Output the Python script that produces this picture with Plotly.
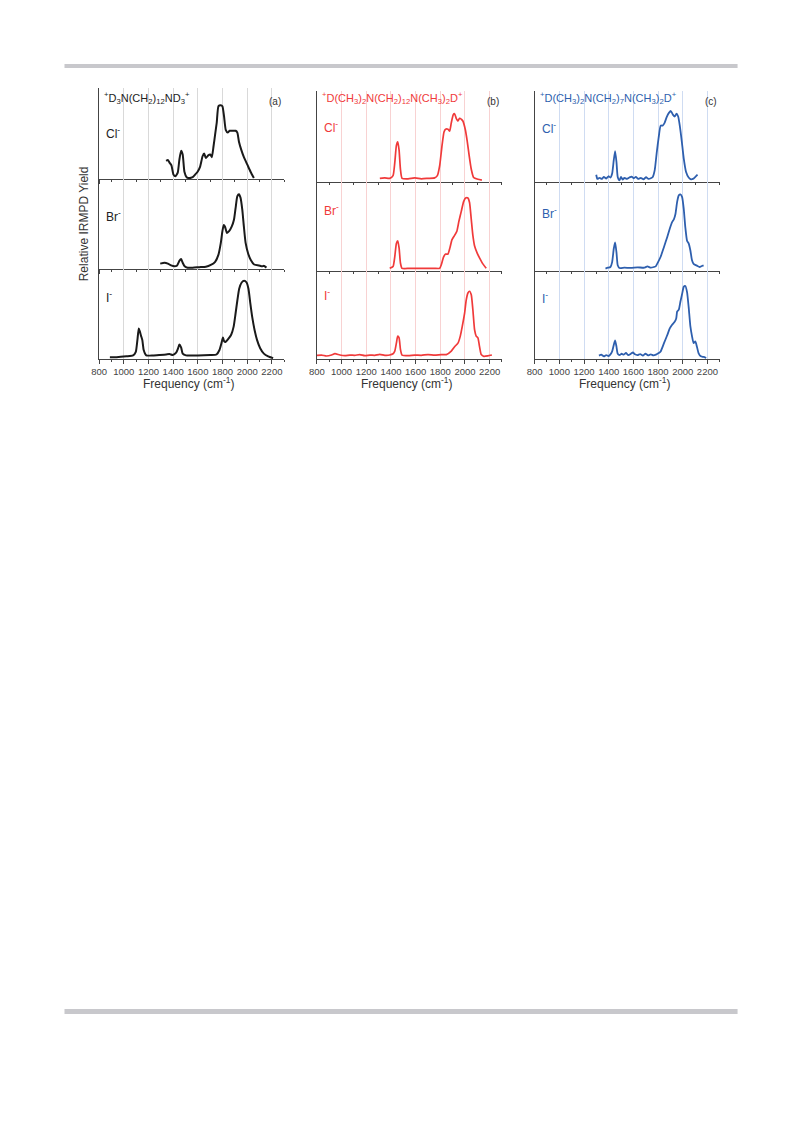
import plotly.graph_objects as go

# page body has an 8px margin; the figure is sized to the remaining area
OFF = 8
W, H = 793 - OFF, 1121 - OFF

# ---------------- data ----------------
tick_vals = [800, 1000, 1200, 1400, 1600, 1800, 2000, 2200]
tick_text = ["800", "1000", "1200", "1400", "1600", "1800", "2000", "2200"]
ions = ["Cl<sup>-</sup>", "Br<sup>-</sup>", "I<sup>-</sup>"]
panel_titles = [
    "<sup>+</sup>D<sub>3</sub>N(CH<sub>2</sub>)<sub>12</sub>ND<sub>3</sub><sup>+</sup>",
    "<sup>+</sup>D(CH<sub>3</sub>)<sub>2</sub>N(CH<sub>2</sub>)<sub>12</sub>N(CH<sub>3</sub>)<sub>2</sub>D<sup>+</sup>",
    "<sup>+</sup>D(CH<sub>3</sub>)<sub>2</sub>N(CH<sub>2</sub>)<sub>7</sub>N(CH<sub>3</sub>)<sub>2</sub>D<sup>+</sup>",
]
panel_tags = ["(a)", "(b)", "(c)"]

# panel (a)
a_cl_x = [1343, 1357, 1370, 1386, 1402, 1418, 1437, 1450, 1464, 1477, 1491, 1509, 1531, 1558, 1579,
          1598, 1617, 1638, 1651, 1665, 1684, 1700, 1713, 1727, 1740, 1753, 1767, 1786, 1799, 1812,
          1826, 1842, 1858, 1879, 1906, 1920, 1933, 1952, 1973, 2000, 2027, 2054]
a_cl_y = [0.20, 0.21, 0.18, 0.15, 0.05, 0.03, 0.07, 0.21, 0.31, 0.27, 0.08, 0.02, 0.01, 0.02, 0.05,
          0.08, 0.13, 0.25, 0.28, 0.23, 0.26, 0.27, 0.24, 0.36, 0.49, 0.62, 0.80, 0.81, 0.80, 0.69,
          0.54, 0.51, 0.53, 0.53, 0.53, 0.51, 0.41, 0.32, 0.24, 0.16, 0.08, 0.01]
a_br_x = [1295, 1330, 1357, 1383, 1410, 1432, 1450, 1464, 1477, 1493, 1517, 1558, 1611, 1665, 1705,
          1740, 1767, 1786, 1799, 1810, 1820, 1836, 1853, 1874, 1893, 1906, 1920, 1933, 1946, 1960,
          1973, 1987, 2008, 2029, 2056, 2094, 2121, 2134, 2156]
a_br_y = [0.06, 0.07, 0.06, 0.04, 0.03, 0.04, 0.09, 0.11, 0.07, 0.03, 0.015, 0.015, 0.02, 0.025, 0.045,
          0.08, 0.16, 0.29, 0.42, 0.49, 0.47, 0.40, 0.42, 0.47, 0.55, 0.68, 0.81, 0.83, 0.79, 0.66,
          0.47, 0.29, 0.17, 0.10, 0.05, 0.04, 0.03, 0.035, 0.015]
a_i_x = [887, 941, 1021, 1075, 1097, 1110, 1121, 1129, 1139, 1150, 1161, 1182, 1236, 1290, 1343,
         1370, 1397, 1424, 1440, 1450, 1464, 1477, 1504, 1600, 1700, 1751, 1775, 1792, 1803, 1812,
         1825, 1845, 1870, 1890, 1905, 1920, 1935, 1955, 1975, 1995, 2010, 2025, 2040, 2060, 2080,
         2105, 2135, 2170, 2210]
a_i_y = [0.02, 0.02, 0.03, 0.04, 0.08, 0.21, 0.34, 0.31, 0.26, 0.21, 0.10, 0.04, 0.04, 0.045, 0.05,
         0.055, 0.045, 0.07, 0.12, 0.16, 0.13, 0.06, 0.04, 0.04, 0.045, 0.05, 0.10, 0.18, 0.24, 0.20,
         0.19, 0.22, 0.27, 0.36, 0.50, 0.65, 0.78, 0.85, 0.87, 0.85, 0.78, 0.62, 0.47, 0.32, 0.21,
         0.12, 0.06, 0.03, 0.01]

# panel (b)
b_cl_x = [1310, 1350, 1390, 1417, 1431, 1444, 1455, 1466, 1477, 1490, 1539, 1593, 1646, 1700, 1754,
          1776, 1795, 1814, 1830, 1843, 1862, 1876, 1889, 1905, 1916, 1929, 1943, 1956, 1970, 1983,
          2002, 2018, 2034, 2051, 2070, 2105, 2137]
b_cl_y = [0.04, 0.045, 0.04, 0.07, 0.21, 0.40, 0.44, 0.35, 0.14, 0.04, 0.035, 0.045, 0.035, 0.04, 0.045,
          0.07, 0.18, 0.40, 0.55, 0.58, 0.58, 0.56, 0.65, 0.74, 0.75, 0.70, 0.67, 0.70, 0.69, 0.67,
          0.58, 0.45, 0.29, 0.14, 0.05, 0.03, 0.02]
b_br_x = [1390, 1417, 1431, 1444, 1455, 1466, 1477, 1490, 1550, 1650, 1750, 1795, 1808, 1827, 1843,
          1862, 1878, 1894, 1916, 1935, 1951, 1970, 1989, 2005, 2024, 2037, 2051, 2064, 2078, 2099,
          2121, 2145, 2172]
b_br_y = [0.03, 0.05, 0.16, 0.31, 0.34, 0.26, 0.09, 0.03, 0.03, 0.03, 0.03, 0.03, 0.07, 0.16, 0.19,
          0.19, 0.26, 0.35, 0.40, 0.45, 0.56, 0.67, 0.78, 0.82, 0.82, 0.77, 0.58, 0.40, 0.28, 0.20,
          0.14, 0.08, 0.03]
b_i_x = [800, 838, 878, 919, 946, 986, 1027, 1067, 1107, 1148, 1188, 1229, 1269, 1310, 1350,
         1390, 1417, 1431, 1444, 1455, 1466, 1477, 1490, 1539, 1593, 1646, 1700, 1754, 1808, 1849,
         1889, 1916, 1943, 1962, 1978, 1997, 2010, 2024, 2037, 2051, 2064, 2078, 2091, 2105, 2118,
         2132, 2153, 2185, 2218]
b_i_y = [0.04, 0.045, 0.034, 0.045, 0.06, 0.045, 0.038, 0.045, 0.042, 0.05, 0.038, 0.045, 0.042, 0.053, 0.042,
         0.045, 0.06, 0.09, 0.18, 0.26, 0.24, 0.11, 0.045, 0.038, 0.045, 0.042, 0.05, 0.045, 0.05, 0.05,
         0.09, 0.14, 0.18, 0.26, 0.37, 0.52, 0.67, 0.75, 0.77, 0.73, 0.56, 0.33, 0.26, 0.24, 0.14,
         0.05, 0.03, 0.035, 0.045]

# panel (c)
c_cl_x = [1299, 1308, 1326, 1345, 1361, 1380, 1398, 1414, 1428, 1441, 1452, 1463, 1473, 1487, 1500,
          1513, 1527, 1548, 1567, 1586, 1602, 1620, 1639, 1660, 1682, 1703, 1722, 1741, 1757, 1773,
          1789, 1805, 1821, 1837, 1853, 1869, 1888, 1904, 1920, 1936, 1949, 1963, 1976, 1992, 2008,
          2027, 2048, 2067, 2083, 2102, 2120]
c_cl_y = [0.08, 0.034, 0.045, 0.034, 0.056, 0.037, 0.063, 0.049, 0.093, 0.24, 0.34, 0.22, 0.056, 0.019, 0.056,
          0.026, 0.045, 0.034, 0.049, 0.06, 0.041, 0.056, 0.034, 0.045, 0.03, 0.052, 0.034, 0.041, 0.056, 0.13,
          0.32, 0.49, 0.62, 0.62, 0.65, 0.71, 0.76, 0.78, 0.74, 0.72, 0.75, 0.72, 0.62, 0.45, 0.26,
          0.11, 0.05, 0.03, 0.034, 0.056, 0.08]
c_br_x = [1374, 1393, 1414, 1428, 1441, 1452, 1463, 1473, 1487, 1527, 1580, 1634, 1687, 1714, 1741,
          1767, 1781, 1800, 1821, 1848, 1874, 1896, 1914, 1928, 1941, 1955, 1968, 1981, 1995, 2008,
          2021, 2035, 2048, 2062, 2075, 2088, 2115, 2136, 2155, 2169]
c_br_y = [0.026, 0.037, 0.045, 0.10, 0.25, 0.32, 0.21, 0.064, 0.034, 0.037, 0.034, 0.041, 0.037, 0.052, 0.037,
          0.045, 0.052, 0.10, 0.16, 0.27, 0.38, 0.48, 0.55, 0.58, 0.64, 0.78, 0.85, 0.86, 0.83, 0.70,
          0.49, 0.34, 0.31, 0.23, 0.12, 0.08, 0.06, 0.045, 0.056, 0.064]
c_i_x = [1321, 1340, 1361, 1380, 1398, 1414, 1428, 1441, 1452, 1463, 1473, 1489, 1505, 1521, 1540,
         1559, 1580, 1596, 1612, 1634, 1655, 1677, 1698, 1719, 1741, 1762, 1783, 1805, 1821, 1848,
         1874, 1896, 1914, 1933, 1947, 1955, 1968, 1981, 1995, 2008, 2021, 2035, 2048, 2062, 2075,
         2088, 2102, 2115, 2128, 2147, 2169, 2190]
c_i_y = [0.038, 0.049, 0.03, 0.045, 0.034, 0.053, 0.086, 0.16, 0.21, 0.14, 0.06, 0.045, 0.06, 0.049, 0.068,
         0.045, 0.06, 0.075, 0.053, 0.045, 0.056, 0.038, 0.06, 0.041, 0.053, 0.041, 0.049, 0.068, 0.086, 0.18,
         0.27, 0.35, 0.39, 0.42, 0.46, 0.54, 0.56, 0.65, 0.74, 0.82, 0.83, 0.76, 0.59, 0.37, 0.26,
         0.18, 0.20, 0.14, 0.068, 0.03, 0.023, 0.011]

series = [
    [(a_cl_x, a_cl_y), (a_br_x, a_br_y), (a_i_x, a_i_y)],
    [(b_cl_x, b_cl_y), (b_br_x, b_br_y), (b_i_x, b_i_y)],
    [(c_cl_x, c_cl_y), (c_br_x, c_br_y), (c_i_x, c_i_y)],
]

# ---------------- style / layout ----------------
FONT = "Liberation Sans, Arial, sans-serif"
AX = "#444444"
panels = [
    dict(x0=92, x1=279, rows=[(88, 179), (179, 269), (269, 359)], color="#1a1a1a", grid="#d9d9d9",
         ion_y=[133, 216, 297], ion_x=97, lw=2.0),
    dict(x0=312, x1=499, rows=[(91, 182), (182, 271), (271, 359)], color="#f03a3a", grid="#f8d2d2",
         ion_y=[127, 210, 295], ion_x=317, lw=1.7),
    dict(x0=532, x1=719, rows=[(91, 182), (182, 271), (271, 359)], color="#2e5fae", grid="#cfdcf2",
         ion_y=[128, 213, 298], ion_x=537, lw=1.8),
]


def px(x):
    return (x - OFF) / W


def py(y):
    return 1 - (y - OFF) / H


fig = go.Figure()
layout = {}
annotations = []

for p, pan in enumerate(panels):
    for r in range(3):
        idx = p * 3 + r + 1
        sfx = "" if idx == 1 else str(idx)
        top, bot = pan["rows"][r]
        layout["xaxis" + sfx] = dict(
            domain=[px(pan["x0"]), px(pan["x1"])], anchor="y" + sfx, range=[800, 2300],
            tickmode="array", tickvals=tick_vals, ticktext=tick_text, tickangle=0,
            showticklabels=(r == 2), ticks="outside", ticklen=4, tickwidth=1, tickcolor=AX,
            showline=True, linecolor=AX, linewidth=1, showgrid=True, gridcolor=pan["grid"], gridwidth=1,
            zeroline=False, tickfont=dict(family=FONT, size=9.5, color="#444444"),
            minor=dict(ticks="outside", ticklen=2, tickcolor=AX, tick0=900, dtick=200, showgrid=False),
        )
        layout["yaxis" + sfx] = dict(
            domain=[py(bot), py(top)], anchor="x" + sfx, range=[0, 1],
            showticklabels=False, ticks="", showline=True, linecolor=AX, linewidth=1,
            showgrid=False, zeroline=False,
        )
        xs, ys = series[p][r]
        fig.add_trace(go.Scatter(
            x=xs, y=ys, mode="lines", xaxis="x" + sfx, yaxis="y" + sfx,
            line=dict(color=pan["color"], width=pan["lw"], shape="spline", smoothing=0.5),
            showlegend=False, hoverinfo="skip",
        ))
        annotations.append(dict(
            x=px(pan["ion_x"]), y=py(pan["ion_y"][r]), xref="paper", yref="paper",
            text=ions[r], showarrow=False, xanchor="left", yanchor="middle",
            font=dict(family=FONT, size=12, color=pan["color"] if p > 0 else "#222222"),
        ))
    # panel title formula
    annotations.append(dict(
        x=px(pan["x0"] + 3), y=py(98), xref="paper", yref="paper", text=panel_titles[p],
        showarrow=False, xanchor="left", yanchor="middle",
        font=dict(family=FONT, size=11, color=pan["color"] if p > 0 else "#222222"),
    ))
    annotations.append(dict(
        x=px(pan["x1"] - 1), y=py(101), xref="paper", yref="paper", text=panel_tags[p],
        showarrow=False, xanchor="right", yanchor="middle",
        font=dict(family=FONT, size=10, color="#333333"),
    ))
    annotations.append(dict(
        x=px((pan["x0"] + pan["x1"]) / 2 - 3), y=py(383), xref="paper", yref="paper",
        text="Frequency (cm<sup>-1</sup>)", showarrow=False, xanchor="center", yanchor="middle",
        font=dict(family=FONT, size=12, color="#333333"),
    ))

annotations.append(dict(
    x=px(77), y=py(224), xref="paper", yref="paper", text="Relative IRMPD Yield",
    showarrow=False, textangle=-90, xanchor="center", yanchor="middle",
    font=dict(family=FONT, size=12, color="#333333"),
))

shapes = [
    dict(type="rect", xref="paper", yref="paper", x0=px(57), x1=px(737), y0=py(68), y1=py(64),
         fillcolor="#c8c8cc", line=dict(width=0), layer="below"),
    dict(type="rect", xref="paper", yref="paper", x0=px(57), x1=px(737), y0=py(1014), y1=py(1009),
         fillcolor="#c8c8cc", line=dict(width=0), layer="below"),
]

fig.update_layout(
    width=W, height=H, margin=dict(l=0, r=0, t=0, b=0, pad=0),
    paper_bgcolor="white", plot_bgcolor="rgba(0,0,0,0)",
    annotations=annotations, shapes=shapes, font=dict(family=FONT),
    **layout,
)

fig.write_html("out.html")
